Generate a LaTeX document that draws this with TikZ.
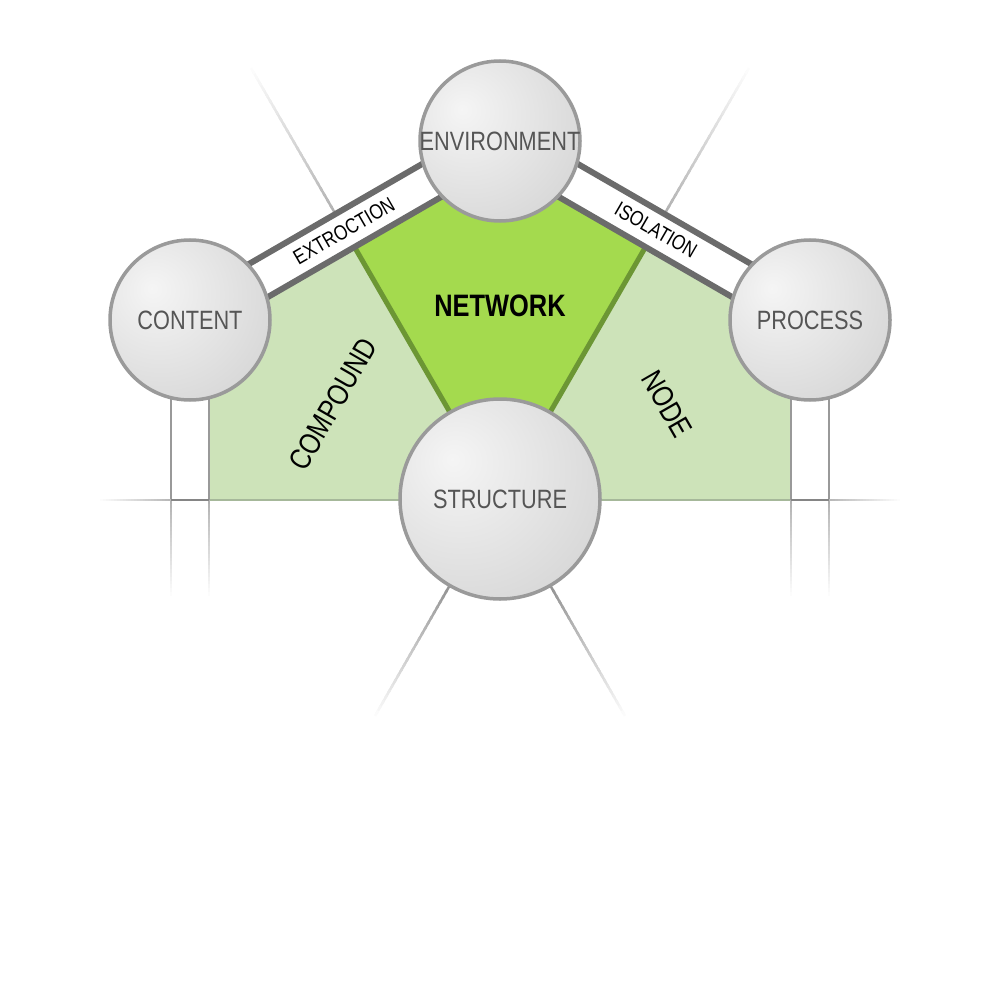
\documentclass[tikz,border=0pt]{standalone}
\usepackage{fontspec}
\setmainfont{Liberation Sans}[FakeStretch=0.82]
\usetikzlibrary{calc}
\definecolor{lgreen}{HTML}{CDE3B9}
\definecolor{dgreen}{HTML}{A4DA4E}
\definecolor{bgreen}{HTML}{6C9634}
\definecolor{bandline}{HTML}{6B6B6B}
\definecolor{circline}{HTML}{9A9A9A}
\definecolor{txtgray}{HTML}{555555}
\definecolor{vline}{HTML}{999999}
\definecolor{vjoin}{HTML}{858585}
\definecolor{baseln}{HTML}{A6B89A}
\pgfdeclareradialshading{sphere}{\pgfpoint{-12bp}{10bp}}{color(0bp)=(black!4); color(38bp)=(black!16); color(62bp)=(black!24); color(100bp)=(black!24)}
\newcommand\fadeln[4]{%
  \foreach \k in {0,...,24}{%
    \pgfmathsetmacro\cc{#3*(1-\k/25)}%
    \pgfmathsetmacro\ee{min(1,(\k+1.5)/25)}%
    \draw[line width=#4, draw=black!\cc] ($(#1)!{\k/25}!(#2)$) -- ($(#1)!{\ee}!(#2)$);
  }}
\tikzset{
  ball/.style={circle, draw=circline, line width=3.5, shade, shading=sphere, inner sep=0pt},
  balltext/.style={text=txtgray, font=\fontsize{26.5}{28}\selectfont, inner sep=0pt},
  bandtext/.style={text=black, font=\fontsize{21}{23}\selectfont, inner sep=0pt},
  areatext/.style={text=black, font=\fontsize{30}{32}\selectfont, inner sep=0pt},
  bandfill/.style={fill=white, draw=none},
  bandedge/.style={draw=bandline, line width=6},
  vedge/.style={draw=vline, line width=2.5},
}
\begin{document}
\begin{tikzpicture}[x=1pt, y=-1pt]
\useasboundingbox (0,0) rectangle (1000,1000);
% named points
\coordinate (C) at (190,320);
\coordinate (E) at (500,141);
\coordinate (P) at (810,320);
\coordinate (S) at (500,499);
% top faded extension lines
\coordinate (tl0) at (335.5,214);
\coordinate (tl1) at (251,68);
\coordinate (tr0) at (664.5,214);
\coordinate (tr1) at (749,68);
\fadeln{tl0}{tl1}{30}{2.5}
\fadeln{tr0}{tr1}{30}{2.5}
% bottom faded extension lines
\coordinate (bl0) at (450,585);
\coordinate (bl1) at (375,716);
\coordinate (br0) at (550,585);
\coordinate (br1) at (625,716);
\fadeln{bl0}{bl1}{42}{2.5}
\fadeln{br0}{br1}{42}{2.5}
% light green area
\fill[lgreen] (209,500) -- (209,331) -- (500,163) -- (791,331) -- (791,500) -- cycle;
% dark green network
\coordinate (nl) at (354.5,247);
\coordinate (nr) at (645.5,247);
\fill[dgreen] (nl) -- (500,163) -- (nr) -- (S) -- cycle;
\draw[bgreen, line width=5] (nl) -- (S) -- (nr);
% base line
\draw[baseln, line width=2] (209,500) -- (791,500);
% vertical bands below content and process
\coordinate (lv1) at (171,500);
\coordinate (lv2) at (209,500);
\coordinate (rv1) at (791,500);
\coordinate (rv2) at (829,500);
\draw[vedge] (171,380) -- (lv1);
\draw[vedge] (209,380) -- (lv2);
\draw[vedge] (791,380) -- (rv1);
\draw[vedge] (829,380) -- (rv2);
\fadeln{lv1}{171,596}{30}{2}
\fadeln{lv2}{209,596}{30}{2}
\fadeln{rv1}{791,596}{30}{2}
\fadeln{rv2}{829,596}{30}{2}
\fadeln{lv1}{100,500}{28}{2}
\fadeln{rv2}{900,500}{28}{2}
\draw[vjoin, line width=2.5] (lv1) -- (lv2);
\draw[vjoin, line width=2.5] (rv1) -- (rv2);
% diagonal bands
\fill[bandfill] (180.5,303.5) -- (490.5,124.5) -- (509.5,157.5) -- (199.5,336.5) -- cycle;
\draw[bandedge] (180.5,303.5) -- (490.5,124.5);
\draw[bandedge] (199.5,336.5) -- (509.5,157.5);
\fill[bandfill] (509.5,124.5) -- (819.5,303.5) -- (800.5,336.5) -- (490.5,157.5) -- cycle;
\draw[bandedge] (509.5,124.5) -- (819.5,303.5);
\draw[bandedge] (490.5,157.5) -- (800.5,336.5);
% circles
\node[ball, minimum size=160pt] (env) at (E) {};
\node[ball, minimum size=160pt] (con) at (C) {};
\node[ball, minimum size=160pt] (pro) at (P) {};
\node[ball, minimum size=200pt] (str) at (S) {};
\node[balltext] (envt) at (env) {ENVIRONMENT};
\node[balltext] (cont) at (con) {CONTENT};
\node[balltext] (prot) at (pro) {PROCESS};
\node[balltext] (strt) at (str) {STRUCTURE};
% labels
\node[text=black, font=\fontsize{31}{33}\selectfont\bfseries, inner sep=0pt] (net) at (500,306) {NETWORK};
\node[bandtext, rotate=30] (ext) at (344,231) {EXTROCTION};
\node[bandtext, rotate=-30] (iso) at (656,230) {ISOLATION};
\node[areatext, rotate=60] (cmp) at (333,404) {COMPOUND};
\node[areatext, rotate=-60] (nod) at (667,404) {NODE};
\end{tikzpicture}
\end{document}
